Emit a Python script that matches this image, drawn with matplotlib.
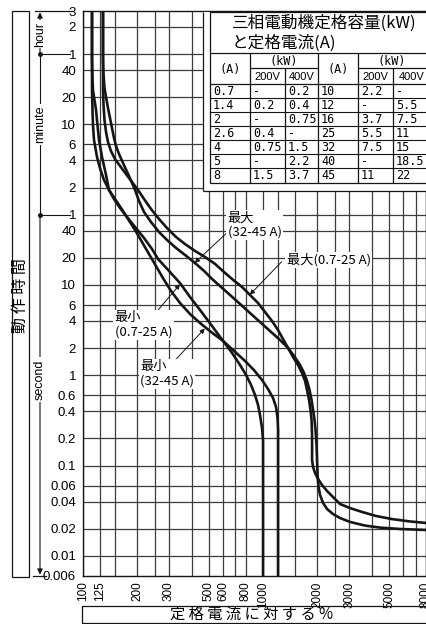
import matplotlib
matplotlib.use('Agg')
import matplotlib.pyplot as plt
from matplotlib import font_manager
from matplotlib.patches import Rectangle
from matplotlib.ticker import NullLocator
from matplotlib.transforms import blended_transform_factory

# Operating time curves: % of rated current vs. time [s]
min_0725_pct = [112.2, 112.2, 112.2, 112.9, 113.6, 115.1, 119.6, 124.2, 130.8, 139.4, 148.6,
                160.5, 175.5, 194.4, 218.1, 241.5, 260.8, 300.1, 345.4, 392.6, 446.2, 520.2,
                598.7, 671.6, 743.8, 803.1, 856, 900.7, 935.8, 959.9, 984.8, 997.4, 997.4]
min_0725_sec = [10800, 3097, 1441, 866, 590, 403, 261, 197, 145, 113, 89.5,
                71.2, 56.6, 43.9, 33.1, 25.0, 19.4, 14.3, 10.5, 7.36, 5.28, 3.51,
                2.40, 1.77, 1.30, 1.01, 0.781, 0.605, 0.469, 0.363, 0.261, 0.192, 0.006]

min_3245_pct = [112.2, 112.2, 112.9, 113.6, 115.8, 118.1, 120.3, 122.7, 127.5, 130.8, 134.2,
                139.4, 150.5, 162.5, 177.7, 194.4, 212.6, 232.4, 254.2, 277.9, 307.9, 345.4,
                392.6, 446.2, 513.5, 598.7, 688.9, 792.9, 889.3, 984.8, 1063.3, 1133.6,
                1177.9, 1200.7, 1208.4, 1208.4]
min_3245_sec = [10800, 3097, 1860, 1441, 1117, 866, 590, 403, 261, 208, 165,
                112.6, 89.5, 71.2, 53.8, 40.6, 29.9, 22.0, 16.2, 11.9, 8.58, 6.32,
                4.77, 3.79, 3.02, 2.40, 1.86, 1.44, 1.14, 0.887, 0.705, 0.561,
                0.446, 0.337, 0.248, 0.006]

max_0725_pct = [129.1, 129.1, 129.1, 130.0, 131.6, 134.2, 137.6, 143.0, 150.5, 160.5, 173.3,
                187.1, 202.0, 218.1, 238.4, 264.1, 292.5, 328.2, 368.2, 418.5, 475.6, 540.5,
                606.4, 680.2, 763.1, 845.1, 935.8, 1023.3, 1119.2, 1208.4, 1288, 1373, 1464,
                1560, 1642, 1706, 1750, 1796, 1830, 1854, 1866, 1866, 1890, 1939, 2015, 2120,
                2260, 2440, 2668, 3031, 3534, 4227, 5184, 6524, 8000]
max_0725_sec = [10800, 3097, 1441, 983, 671, 494, 383, 304, 248, 208, 169,
                138, 112.6, 89.5, 69.4, 53.8, 42.7, 34.0, 28.4, 23.8, 20.4, 17.1,
                13.9, 11.4, 9.50, 7.74, 6.32, 5.02, 3.99, 3.17, 2.52, 2.01, 1.59,
                1.30, 1.06, 0.865, 0.687, 0.533, 0.413, 0.320, 0.218, 0.115, 0.0965, 0.0829,
                0.0711, 0.0610, 0.0524, 0.0449, 0.0376, 0.0339, 0.0307, 0.0277, 0.0256,
                0.0241, 0.0232]

max_3245_pct = [129.1, 129.1, 130.0, 131.6, 134.2, 137.6, 141.2, 144.8, 148.6, 152.4, 158.4,
                166.7, 180.0, 194.4, 204.6, 218.1, 238.4, 264.1, 292.5, 328.2, 368.2, 418.5,
                469.6, 520.2, 583.6, 654.6, 743.8, 845.1, 959.9, 1090.9, 1223.9, 1373.1,
                1482.5, 1600.6, 1684.5, 1750.3, 1807, 1854, 1890, 1926, 1951, 1976, 1989,
                2002, 2027, 2067, 2148, 2260, 2440, 2668, 3031, 3673, 4448, 5742, 8000]
max_3245_sec = [10800, 3097, 2112, 1517, 1206, 911, 706, 547, 424, 346, 282,
                224, 161, 112.6, 85.1, 64.3, 49.8, 38.6, 31.5, 25.7, 21.5, 17.5,
                14.3, 11.65, 9.50, 7.74, 6.16, 4.89, 3.89, 3.09, 2.52, 2.01,
                1.64, 1.30, 1.06, 0.865, 0.687, 0.533, 0.413, 0.320, 0.248, 0.169, 0.115,
                0.0787, 0.0580, 0.0473, 0.0386, 0.0331, 0.0291, 0.0263, 0.0238, 0.0217,
                0.0206, 0.0199, 0.0194]

# axes
y_ticks = [10800, 7200, 3600, 2400, 1200, 600, 360, 240, 120, 60, 40, 20, 10, 6, 4, 2, 1,
           0.6, 0.4, 0.2, 0.1, 0.06, 0.04, 0.02, 0.01, 0.006]
y_labels = ['3', '2', '1', '40', '20', '10', '6', '4', '2', '1', '40', '20', '10', '6', '4',
            '2', '1', '0.6', '0.4', '0.2', '0.1', '0.06', '0.04', '0.02', '0.01', '0.006']
x_ticks = [100, 125, 200, 300, 500, 600, 800, 1000, 2000, 3000, 5000, 8000]
x_grid = [100, 125, 150, 200, 250, 300, 400, 500, 600, 700, 800, 1000, 1200, 1500, 2000,
          2500, 3000, 4000, 5000, 6000, 7000, 8000]

# table: motor rating (kW) vs rated current (A)
amp_1 = ['0.7', '1.4', '2', '2.6', '4', '5', '8']
kw200_1 = ['-', '0.2', '-', '0.4', '0.75', '-', '1.5']
kw400_1 = ['0.2', '0.4', '0.75', '-', '1.5', '2.2', '3.7']
amp_2 = ['10', '12', '16', '25', '32', '40', '45']
kw200_2 = ['2.2', '-', '3.7', '5.5', '7.5', '-', '11']
kw400_2 = ['-', '5.5', '7.5', '11', '15', '18.5', '22']

names = {f.name for f in font_manager.fontManager.ttflist}
NUM = 'Liberation Sans Narrow' if 'Liberation Sans Narrow' in names else 'Liberation Sans'
JP = ['Noto Sans CJK JP', 'DejaVu Sans']
MONO = 'DejaVu Sans Mono'
INK = '#151515'
GRID = '#3c3c3c'

W, H = 426, 624
fig = plt.figure(figsize=(W / 100, H / 100), dpi=100)
ax = fig.add_axes([83 / W, 1 - 576 / H, 343 / W, 565 / H])
ax.set_xscale('log')
ax.set_yscale('log')
ax.set_xlim(100, 8000)
ax.set_ylim(0.006, 10800)

for v in x_grid:
    ax.axvline(v, color=GRID, lw=0.9, zorder=1)
for v in y_ticks[1:-1]:
    ax.axhline(v, color=GRID, lw=0.9, zorder=1)

for p, s in [(min_0725_pct, min_0725_sec), (min_3245_pct, min_3245_sec),
             (max_0725_pct, max_0725_sec), (max_3245_pct, max_3245_sec)]:
    ax.plot(p, s, color=INK, lw=1.9, zorder=3, solid_joinstyle='round')

ax.set_xticks(x_ticks)
ax.set_xticklabels([str(v) for v in x_ticks], rotation=90, fontfamily=NUM, fontsize=8.5)
ax.set_yticks(y_ticks)
ax.set_yticklabels(y_labels, fontfamily=NUM, fontsize=9.5)
ax.xaxis.set_minor_locator(NullLocator())
ax.yaxis.set_minor_locator(NullLocator())
ax.tick_params(length=0)
ax.tick_params(axis='x', pad=4)
ax.tick_params(axis='y', pad=5)
for sp in ax.spines.values():
    sp.set_color(INK)
    sp.set_linewidth(1.0)

# curve labels
box = dict(boxstyle='square,pad=0.1', fc='white', ec='none')
arrow = dict(arrowstyle='-|>', color=INK, lw=0.7, mutation_scale=7, shrinkA=0, shrinkB=0)
labels = [('最大\n(32-45 A)', (636, 46.4), (620, 36.9), (417, 17.6)),
          ('最大(0.7-25 A)', (1350, 19.0), (1266, 18.1), (842, 7.8)),
          ('最小\n(0.7-25 A)', (150, 3.63), (235, 4.12), (345, 10.2)),
          ('最小\n(32-45 A)', (207, 1.04), (315, 1.38), (474, 3.3))]
for txt, tpos, start, tip in labels:
    ax.annotate('', xy=tip, xytext=start, arrowprops=arrow, zorder=4)
    ax.text(tpos[0], tpos[1], txt, fontfamily=JP, fontsize=9.5, ha='left', va='center',
            linespacing=1.1, bbox=box, zorder=4)

# overlay in pixel coordinates for frames and the table
ov = fig.add_axes([0, 0, 1, 1], zorder=5)
ov.set_xlim(0, W)
ov.set_ylim(H, 0)
ov.axis('off')
ov.patch.set_visible(False)


def hline(y, x0, x1, lw=0.9):
    ov.plot([x0, x1], [y, y], color=INK, lw=lw, solid_capstyle='butt', clip_on=False)


def vline(x, y0, y1, lw=0.9):
    ov.plot([x, x], [y0, y1], color=INK, lw=lw, solid_capstyle='butt', clip_on=False)


# left: time-unit guide
bt = blended_transform_factory(ov.transData, ax.transData)
ov.plot([40, 40], [3600, 60], color=INK, lw=0.8, transform=bt, clip_on=False)
for tip, start in ((10800, 3600), (0.006, 60)):
    ov.annotate('', xy=(40, tip), xytext=(40, start), xycoords=bt, textcoords=bt,
                arrowprops=dict(arrowstyle='-|>', color=INK, lw=0.8, mutation_scale=8,
                                shrinkA=0, shrinkB=1))
ov.plot([35, 72], [10800, 10800], color=INK, lw=0.9, transform=bt, clip_on=False)
ov.plot([33, 46], [0.006, 0.006], color=INK, lw=0.9, transform=bt, clip_on=False)
for v in (3600, 60):
    ov.plot([38, 70], [v, v], color=INK, lw=0.8, transform=bt, clip_on=False)
    ov.plot([40], [v], 'o', color=INK, ms=2.5, transform=bt, clip_on=False)
ubox = dict(boxstyle='square,pad=0.15', fc='white', ec='none')
for txt, v in (('hour', 6000), ('minute', 600), ('second', 0.9)):
    ov.text(40, v, txt, rotation=90, ha='center', va='center', fontfamily='Liberation Sans',
            fontsize=9, bbox=ubox, transform=bt)

ov.add_patch(Rectangle((12, 11), 17, 566, fc='none', ec=INK, lw=0.9))
ov.text(20.5, 296, '動 作 時 間', rotation=90, ha='center', va='center', fontfamily=JP,
        fontsize=11.5)

ov.add_patch(Rectangle((82, 606), 360, 17, fc='none', ec=INK, lw=0.9))
ov.text(252, 614.5, '定 格 電 流 に 対 す る %', ha='center', va='center', fontfamily=JP,
        fontsize=11)

# table
ov.add_patch(Rectangle((203, 11.5), 240, 180, fc='white', ec='none'))
vline(203, 11.5, 191)
hline(191, 203, 430)
ov.add_patch(Rectangle((210, 12), 230, 171, fc='none', ec=INK, lw=0.9))
ov.text(232, 23, '三相電動機定格容量(kW)', fontfamily=JP, fontsize=12, va='center')
ov.text(232, 43, 'と定格電流(A)', fontfamily=JP, fontsize=12, va='center')
hline(53, 210, 430)
hline(84, 210, 430)
for x in (250, 318, 358):
    vline(x, 53, 183)
for x in (285, 393):
    vline(x, 68, 183)
hline(68, 250, 318)
hline(68, 358, 430)
for x in (230, 338):
    ov.text(x, 70, '(A)', fontfamily=MONO, fontsize=8.5, ha='center', va='center')
for x in (284, 392):
    ov.text(x, 61, '(kW)', fontfamily=MONO, fontsize=8.5, ha='center', va='center')
for x, t in ((267.5, '200V'), (301.5, '400V'), (375.5, '200V'), (412, '400V')):
    ov.text(x, 76.5, t, fontfamily=NUM, fontsize=8, ha='center', va='center')

row_h = 14
for i in range(1, 7):
    hline(84 + i * row_h, 210, 430, lw=0.8)
cols = [amp_1, kw200_1, kw400_1, amp_2, kw200_2, kw400_2]
col_x = [213, 253, 288, 321, 361, 396]
for cx, vals in zip(col_x, cols):
    for i, v in enumerate(vals):
        ov.text(cx, 84 + row_h * (i + 0.5) + 0.5, v, fontfamily=MONO, fontsize=8.5,
                ha='left', va='center')

fig.savefig('out.png', dpi=100)
